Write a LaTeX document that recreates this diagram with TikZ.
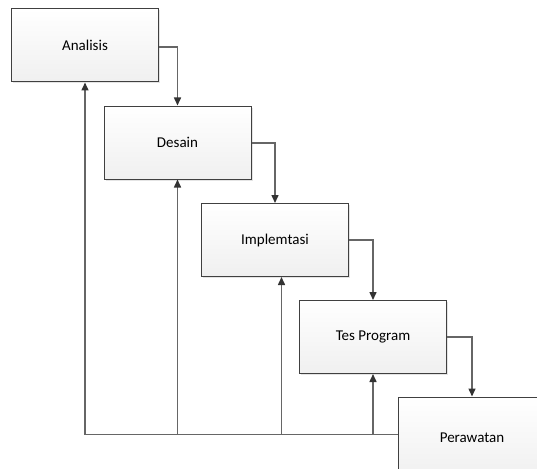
\documentclass[tikz,border=0pt]{standalone}
\usepackage{fontspec}
\setmainfont{Carlito}
\usetikzlibrary{positioning, arrows.meta, calc, shadows}

\begin{document}
\begin{tikzpicture}[
  x=1pt, y=-1pt,
  font=\fontsize{15}{18}\selectfont,
  phase/.style={
    draw=gray!50!black, line width=1pt, top color=white, bottom color=gray!12,
    minimum width=147pt, minimum height=73pt, align=center,
    drop shadow={shadow xshift=1.5pt, shadow yshift=-1.5pt, fill=gray!35, opacity=0.6}
  },
  arrow/.style={-{Triangle[length=8pt, width=7pt, color=gray!40!black]}, line width=1.5pt, draw=gray!80!black},
]
\clip (0,0) rectangle (537,468);

\node[phase] (analisis) at (85,45.5) {Analisis};
\node[phase] (desain) at (177.5,142.5) {Desain};
\node[phase] (implementasi) at (275,240) {Implemtasi};
\node[phase] (tes) at (373,337) {Tes Program};
\node[phase, minimum height=82pt] (perawatan) at (472,438) {Perawatan};

% alur maju
\draw[arrow] (analisis.east |- 0,47) -| (desain.north);
\draw[arrow] (desain.east |- 0,143) -| (implementasi.north);
\draw[arrow] (implementasi.east) -| (tes.north);
\draw[arrow] (tes.east) -| (perawatan.north);

% umpan balik
\coordinate (balik) at (85,434.5);
\draw[arrow] (perawatan.west |- balik) -- (balik) -- (analisis.south);
\draw[arrow] (desain.south |- balik) -- (desain.south);
\draw[arrow] (281.5,434.5) -- (implementasi.south -| 281.5,0);
\draw[arrow] (tes.south |- balik) -- (tes.south);

\end{tikzpicture}
\end{document}
